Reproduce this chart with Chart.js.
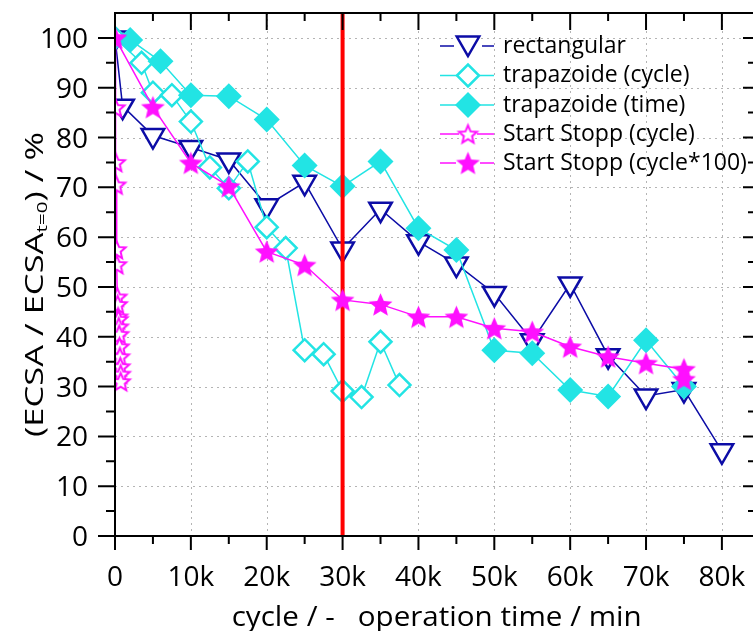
<!DOCTYPE html>
<html><head><meta charset="utf-8">
<script src="https://cdn.jsdelivr.net/npm/chart.js@4.4.1/dist/chart.umd.min.js"></script>
<style>html,body{margin:0;padding:0;background:#fff;}#wrap{width:753px;height:631px;}</style>
</head><body><div id="wrap"><canvas id="c" width="753" height="631"></canvas></div>
<script>
const FONT = '"Open Sans", "Noto Sans", "DejaVu Sans", sans-serif';

// ---------- data ----------
const seriesNames = ['rectangular', 'trapazoide (cycle)', 'trapazoide (time)', 'Start Stopp (cycle)', 'Start Stopp (cycle*100)'];

const rectX = [0, 1000, 5000, 10000, 15000, 20000, 25000, 30000, 35000, 40000, 45000, 50000, 55000, 60000, 65000, 70000, 75000, 80000];
const rectY = [100, 86.3, 80.4, 78, 75.5, 66.3, 71, 57.6, 65.6, 59.1, 54.6, 48.7, 39.2, 50.6, 36.2, 28.1, 29.4, 17.1];

const trapCycleX = [0, 3500, 5000, 7500, 10000, 12500, 15000, 17500, 20000, 22500, 25000, 27500, 30000, 32500, 35000, 37500];
const trapCycleY = [100, 95, 89, 88.5, 83.2, 74, 69.8, 75.2, 62, 57.8, 37.3, 36.5, 29.1, 27.9, 39, 30.3];

const trapTimeX = [2000, 6000, 10000, 15000, 20000, 25000, 30000, 35000, 40000, 45000, 50000, 55000, 60000, 65000, 70000, 75000];
const trapTimeY = [99.6, 95.3, 88.5, 88.3, 83.6, 74.4, 70.2, 75.2, 61.8, 57.4, 37.3, 36.7, 29.3, 28, 39.3, 30];

const ssCycleX = [0, 50, 100, 150, 200, 250, 300, 350, 400, 450, 500, 550, 600, 650, 700, 750, 750];
const ssCycleY = [100, 86, 75, 70.5, 57.5, 54.5, 48, 46.5, 44, 43.5, 42, 40.5, 38, 36, 34, 32.5, 31];

const ssCycle100X = [0, 5000, 10000, 15000, 20000, 25000, 30000, 35000, 40000, 45000, 50000, 55000, 60000, 65000, 70000, 75000, 75000];
const ssCycle100Y = [100, 86.1, 74.9, 70.2, 57.1, 54.4, 47.4, 46.5, 44, 44, 41.7, 41, 38, 36, 34.7, 33.5, 31.5];

const markerLineX = 30000;

const xMajorTicks = [0, 10000, 20000, 30000, 40000, 50000, 60000, 70000, 80000];
const xTickLabels = ['0', '10k', '20k', '30k', '40k', '50k', '60k', '70k', '80k'];
const xMinorTicks = [5000, 15000, 25000, 35000, 45000, 55000, 65000, 75000];
const yMajorTicks = [0, 10, 20, 30, 40, 50, 60, 70, 80, 90, 100];
const yTickLabels = ['0', '10', '20', '30', '40', '50', '60', '70', '80', '90', '100'];
const yMinorTicks = [5, 15, 25, 35, 45, 55, 65, 75, 85, 95];

const xTitle = 'cycle / -   operation time / min';
const yTitleMain = '(ECSA / ECSA';
const yTitleSub = 't=0';
const yTitleEnd = ') / %';

// ---------- styles ----------
const BLUE = '#0c0ca6';
const CYAN = '#22e4e4';
const MAGENTA = '#ff10ff';
const RED = '#ff0000';

function starCanvas(rOuter, rInner, fill, stroke, lw) {
  const pad = Math.ceil(lw) + 2;
  const size = Math.ceil(2 * rOuter + 2 * pad);
  const c = document.createElement('canvas');
  c.width = size; c.height = size;
  const g = c.getContext('2d');
  const cx = size / 2, cy = size / 2 + rOuter * 0.09;
  g.beginPath();
  for (let i = 0; i < 10; i++) {
    const r = i % 2 ? rInner : rOuter;
    const a = -Math.PI / 2 + i * Math.PI / 5;
    const px = cx + r * Math.cos(a), py = cy + r * Math.sin(a);
    if (i === 0) g.moveTo(px, py); else g.lineTo(px, py);
  }
  g.closePath();
  if (fill) { g.fillStyle = fill; g.fill(); }
  if (stroke) { g.lineJoin = 'miter'; g.strokeStyle = stroke; g.lineWidth = lw; g.stroke(); }
  return c;
}
const starFilled = starCanvas(12.5, 5.6, MAGENTA, null, 0);
const starOpen = starCanvas(9.5, 4.3, '#ffffff', MAGENTA, 2);

function pts(xs, ys) { return xs.map((x, i) => ({ x: x, y: ys[i] })); }

const datasets = [
  { label: seriesNames[0], data: pts(rectX, rectY), borderColor: BLUE, borderWidth: 1.5,
    pointStyle: 'triangle', rotation: 180, pointRadius: 13, pointBorderWidth: 2.5,
    pointBackgroundColor: '#ffffff', pointBorderColor: BLUE, order: 5 },
  { label: seriesNames[1], data: pts(trapCycleX, trapCycleY), borderColor: CYAN, borderWidth: 1.5,
    pointStyle: 'rectRot', pointRadius: 11, pointBorderWidth: 2.5,
    pointBackgroundColor: '#ffffff', pointBorderColor: CYAN, order: 4 },
  { label: seriesNames[2], data: pts(trapTimeX, trapTimeY), borderColor: CYAN, borderWidth: 1.5,
    pointStyle: 'rectRot', pointRadius: 13, pointBorderWidth: 0,
    pointBackgroundColor: CYAN, pointBorderColor: CYAN, order: 3 },
  { label: seriesNames[3], data: pts(ssCycleX, ssCycleY), borderColor: MAGENTA, borderWidth: 1.5,
    pointStyle: starOpen, pointRadius: 10, order: 2 },
  { label: seriesNames[4], data: pts(ssCycle100X, ssCycle100Y), borderColor: MAGENTA, borderWidth: 1.5,
    pointStyle: starFilled, pointRadius: 12, order: 1 }
];

const legendStyles = [
  { color: BLUE, style: 'triangle', rotation: 180, radius: 13, bw: 2.5, fill: '#ffffff', gap: 14 },
  { color: CYAN, style: 'rectRot', rotation: 0, radius: 11, bw: 2.5, fill: '#ffffff', gap: 11 },
  { color: CYAN, style: 'rectRot', rotation: 0, radius: 13, bw: 0, fill: CYAN, gap: 12 },
  { color: MAGENTA, style: starOpen, gap: 9 },
  { color: MAGENTA, style: starFilled, gap: 12 }
];

// ---------- plugins ----------
const gridPlugin = {
  id: 'gridPlugin',
  beforeDatasetsDraw(chart) {
    const { ctx, chartArea: a, scales: { x, y } } = chart;
    ctx.save();
    ctx.strokeStyle = '#b4b4b4';
    ctx.lineWidth = 1;
    ctx.setLineDash([2, 4]);
    yMajorTicks.forEach(v => {
      if (v === 0) return;
      const py = Math.round(y.getPixelForValue(v)) + 0.5;
      ctx.beginPath(); ctx.moveTo(a.left, py); ctx.lineTo(a.right, py); ctx.stroke();
    });
    xMajorTicks.forEach(v => {
      if (v === 0) return;
      const px = Math.round(x.getPixelForValue(v)) + 0.5;
      ctx.beginPath(); ctx.moveTo(px, a.top); ctx.lineTo(px, a.bottom); ctx.stroke();
    });
    ctx.restore();
  }
};

const redLinePlugin = {
  id: 'redLine',
  afterDatasetDraw(chart, args) {
    if (args.index !== 2) return;
    const { ctx, chartArea: a, scales: { x } } = chart;
    const px = x.getPixelForValue(markerLineX);
    ctx.save();
    ctx.strokeStyle = RED; ctx.lineWidth = 4;
    ctx.beginPath(); ctx.moveTo(px, a.bottom); ctx.lineTo(px, a.top); ctx.stroke();
    ctx.restore();
  }
};

const framePlugin = {
  id: 'frame',
  afterDatasetsDraw(chart) {
    const { ctx, chartArea: a, scales: { x, y } } = chart;
    ctx.save();
    ctx.strokeStyle = '#000'; ctx.lineWidth = 2; ctx.lineCap = 'butt';
    ctx.beginPath();
    ctx.moveTo(a.left, a.top - 1); ctx.lineTo(a.left, a.bottom + 1);
    ctx.moveTo(a.left - 1, a.bottom); ctx.lineTo(a.right, a.bottom);
    ctx.moveTo(a.left - 1, a.top); ctx.lineTo(a.right, a.top);
    xMajorTicks.forEach(v => {
      const px = x.getPixelForValue(v);
      ctx.moveTo(px, a.bottom); ctx.lineTo(px, a.bottom + 14);
      ctx.moveTo(px, a.top); ctx.lineTo(px, a.top + 17);
    });
    xMinorTicks.forEach(v => {
      const px = x.getPixelForValue(v);
      ctx.moveTo(px, a.bottom); ctx.lineTo(px, a.bottom + 8);
      ctx.moveTo(px, a.top); ctx.lineTo(px, a.top + 8);
    });
    yMajorTicks.forEach(v => {
      const py = y.getPixelForValue(v);
      ctx.moveTo(a.left, py); ctx.lineTo(a.left - 17, py);
      ctx.moveTo(a.right, py); ctx.lineTo(a.right - 10, py);
    });
    yMinorTicks.forEach(v => {
      const py = y.getPixelForValue(v);
      ctx.moveTo(a.left, py); ctx.lineTo(a.left - 9, py);
      ctx.moveTo(a.right, py); ctx.lineTo(a.right - 5, py);
    });
    ctx.stroke();
    ctx.restore();
  },
  afterDraw(chart) {
    const { ctx, chartArea: a, scales: { x, y } } = chart;
    ctx.save();
    ctx.fillStyle = '#000';
    // tick labels
    ctx.font = '28px ' + FONT;
    ctx.textBaseline = 'alphabetic';
    ctx.textAlign = 'center';
    xMajorTicks.forEach((v, i) => {
      ctx.fillText(xTickLabels[i], x.getPixelForValue(v), a.bottom + 49.5);
    });
    ctx.textAlign = 'right';
    yMajorTicks.forEach((v, i) => {
      ctx.fillText(yTickLabels[i], a.left - 27, y.getPixelForValue(v) + 10);
    });
    // x axis title (stretched to reference width)
    ctx.font = '27px ' + FONT;
    ctx.textAlign = 'left';
    const xw = ctx.measureText(xTitle).width;
    const xTarget = 410;
    ctx.save();
    ctx.translate(436.7 - xTarget / 2, 626);
    ctx.scale(xTarget / xw, 1);
    ctx.fillText(xTitle, 0, 0);
    ctx.restore();
    ctx.restore();

    // y axis title with subscript
    ctx.save();
    const mainFont = '25px ' + FONT;
    const subFont = '15px ' + FONT;
    ctx.font = mainFont;
    const w1 = ctx.measureText(yTitleMain).width;
    const w3 = ctx.measureText(yTitleEnd).width;
    ctx.font = subFont;
    const w2 = ctx.measureText(yTitleSub).width;
    const total = w1 + w2 + w3;
    const targetLen = 305;
    ctx.translate(43, 437);
    ctx.rotate(-Math.PI / 2);
    ctx.scale(targetLen / total, 1);
    ctx.fillStyle = '#000';
    ctx.textBaseline = 'alphabetic';
    ctx.textAlign = 'left';
    ctx.font = mainFont; ctx.fillText(yTitleMain, 0, 0);
    ctx.font = subFont; ctx.fillText(yTitleSub, w1, 4);
    ctx.font = mainFont; ctx.fillText(yTitleEnd, w1 + w2, 0);
    ctx.restore();

    // legend
    ctx.save();
    const lx0 = 440, lx1 = 494, mx = 468, tx = 503;
    const rowY = [46, 75.5, 105, 134, 163];
    ctx.font = '23px ' + FONT;
    ctx.textBaseline = 'middle';
    ctx.textAlign = 'left';
    legendStyles.forEach((s, i) => {
      const yy = rowY[i];
      ctx.strokeStyle = s.color; ctx.lineWidth = 1.5;
      ctx.beginPath();
      ctx.moveTo(lx0, yy); ctx.lineTo(mx - s.gap, yy);
      ctx.moveTo(mx + s.gap, yy); ctx.lineTo(lx1, yy);
      ctx.stroke();
      if (typeof s.style === 'string') {
        ctx.fillStyle = s.fill; ctx.strokeStyle = s.color; ctx.lineWidth = s.bw;
        Chart.helpers.drawPoint(ctx, { pointStyle: s.style, rotation: s.rotation, radius: s.radius, borderWidth: s.bw },
          mx, s.style === 'triangle' ? yy - 3 : yy);
      } else {
        ctx.drawImage(s.style, mx - s.style.width / 2, yy - s.style.height / 2);
      }
      ctx.fillStyle = '#000';
      ctx.fillText(seriesNames[i], tx, yy);
    });
    ctx.restore();
  }
};

new Chart(document.getElementById('c'), {
  type: 'line',
  data: { datasets: datasets },
  options: {
    responsive: false,
    devicePixelRatio: 1,
    animation: false,
    events: [],
    layout: { autoPadding: false, padding: { top: 13, left: 0, right: 0, bottom: 0 } },
    elements: { line: { tension: 0 } },
    plugins: { legend: { display: false }, tooltip: { enabled: false } },
    scales: {
      x: {
        type: 'linear', min: 0, max: 84100,
        afterBuildTicks: s => { s.ticks = xMajorTicks.map(v => ({ value: v })); },
        afterFit: s => { s.height = 95; },
        grid: { display: false, drawTicks: false },
        border: { display: false },
        ticks: { display: false, padding: 0 }
      },
      y: {
        type: 'linear', min: 0, max: 105,
        afterBuildTicks: s => { s.ticks = yMajorTicks.map(v => ({ value: v })); },
        afterFit: s => { s.width = 115; },
        grid: { display: false, drawTicks: false },
        border: { display: false },
        ticks: { display: false, padding: 0 }
      }
    }
  },
  plugins: [gridPlugin, redLinePlugin, framePlugin]
});
</script>
</body></html>
